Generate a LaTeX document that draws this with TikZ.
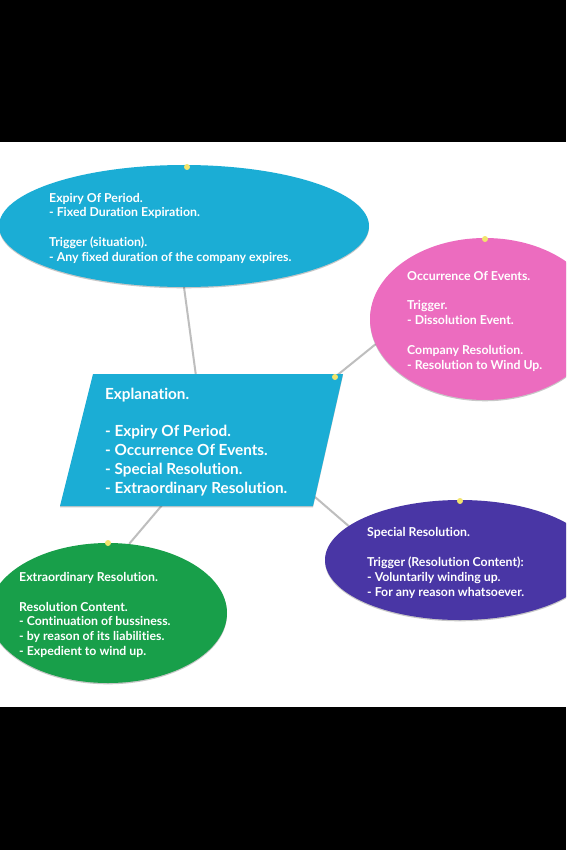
\documentclass[tikz,border=0pt]{standalone}
\usepackage{fontspec}
\setmainfont{Lato}[Ligatures={NoCommon,NoRequired,NoContextual}]
\usetikzlibrary{shapes.geometric,backgrounds}
\definecolor{cblue}{HTML}{1BADD5}
\definecolor{cpink}{HTML}{EC6CBF}
\definecolor{cpurple}{HTML}{4936A5}
\definecolor{cgreen}{HTML}{189F4A}
\definecolor{lineg}{HTML}{BEBEBE}
\definecolor{dotyel}{HTML}{F2E46C}
\begin{document}
\begin{tikzpicture}[x=1pt,y=-1pt,
  blob/.style={ellipse, inner sep=0pt, draw=none,
    preaction={fill=black, opacity=0.22, transform canvas={yshift=-1.3pt}}},
  txt/.style={text=white, align=left, inner sep=0pt, anchor=base west,
    font=\bfseries\fontsize{12.3}{14.8}\selectfont},
  bigtxt/.style={text=white, align=left, inner sep=0pt, anchor=base west,
    font=\bfseries\fontsize{15.3}{18.7}\selectfont},
  conn/.style={draw=lineg, line width=2pt},
  ydot/.style={circle, fill=dotyel, inner sep=0pt, minimum size=6pt}]
\useasboundingbox (0,0) rectangle (566,850);
\clip (0,0) rectangle (566,850);
\begin{pgfonlayer}{background}
  \fill[white] (0,0) rectangle (566,850);
\end{pgfonlayer}
\fill[black] (0,0) rectangle (566,142);
\fill[black] (0,707) rectangle (566,850);

% ellipses
\node[blob, fill=cblue, minimum width=370pt, minimum height=122pt] (expiry) at (184,226) {};
\node[blob, fill=cpink, minimum width=230pt, minimum height=162pt] (occur) at (485,319) {};
\node[blob, fill=cgreen, minimum width=238pt, minimum height=140pt] (extra) at (108,613) {};
\node[blob, fill=cpurple, minimum width=270pt, minimum height=120pt] (special) at (460,560) {};

% parallelogram
\coordinate (pTL) at (93,374);
\coordinate (pTR) at (343,374);
\coordinate (pBR) at (313,506);
\coordinate (pBL) at (60,506);
\fill[black, opacity=0.22, transform canvas={yshift=-1.3pt}] (pTL) -- (pTR) -- (pBR) -- (pBL) -- cycle;
\fill[cblue] (pTL) -- (pTR) -- (pBR) -- (pBL) -- cycle;
\coordinate (pTop) at (196,376);
\coordinate (pCorner) at (335,377);
\coordinate (pBot) at (163,504);
\coordinate (pRight) at (315,497);

% texts (anchor = baseline of the last line)
\node[txt] (t1) at (49,261.2) {Expiry Of Period.\\- Fixed Duration Expiration.\\[14.8pt]Trigger (situation).\\- Any fixed duration of the company expires.};
\node[txt] (t2) at (407,369) {Occurrence Of Events.\\[14.8pt]Trigger.\\- Dissolution Event.\\[14.8pt]Company Resolution.\\- Resolution to Wind Up.};
\node[bigtxt] (t3) at (105,493) {Explanation.\\[18.7pt]- Expiry Of Period.\\- Occurrence Of Events.\\- Special Resolution.\\- Extraordinary Resolution.};
\node[txt] (t4) at (19,655.5) {Extraordinary Resolution.\\[14.8pt]Resolution Content.\\- Continuation of bussiness.\\- by reason of its liabilities.\\- Expedient to wind up.};
\node[txt] (t5) at (367,596) {Special Resolution.\\[14.8pt]Trigger (Resolution Content):\\- Voluntarily winding up.\\- For any reason whatsoever.};

% connectors
\begin{pgfonlayer}{background}
  \draw[conn] (expiry.south) -- (pTop);
  \draw[conn] (pCorner) -- (occur.193);
  \draw[conn] (pBot) -- (extra.73);
  \draw[conn] (pRight) -- (special.163);
\end{pgfonlayer}

% dots
\node[ydot] (d1) at (187,167) {};
\node[ydot] (d2) at (485,239) {};
\node[ydot] (d3) at (pCorner) {};
\node[ydot] (d4) at (108,543) {};
\node[ydot] (d5) at (460,501) {};
\end{tikzpicture}
\end{document}
